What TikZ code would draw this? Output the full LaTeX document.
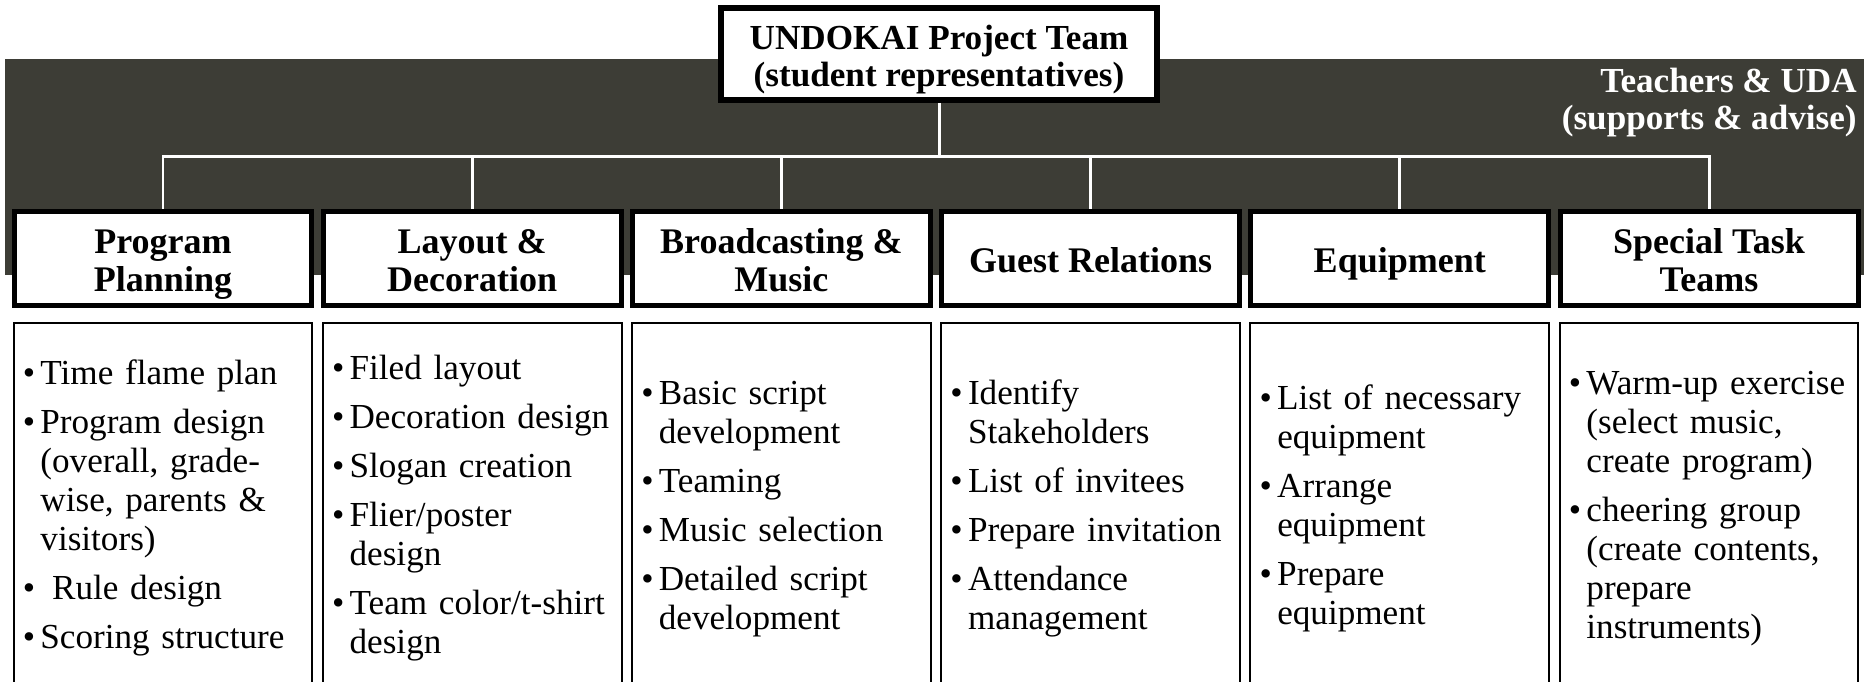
\documentclass[tikz,border=0pt]{standalone}
\usepackage{fontspec}
\setmainfont{Liberation Serif}
\usetikzlibrary{positioning}

\definecolor{bandgray}{RGB}{61,61,54}
% one bullet item, hanging indent, gap before all but the first
\newcommand{\bul}[1]{\par\addvspace{5.7pt}\hangindent=8.5pt\hangafter=1\noindent\makebox[8.5pt][l]{\kern-1.5pt\textbullet}#1\par}
% struts on first and last line of a box title
\newcommand{\boxlines}[1]{\rule{0pt}{22pt}#1\rule[-6pt]{0pt}{0pt}}

\begin{document}
\begin{tikzpicture}[x=0.02cm,y=-0.02cm,
  team/.style={draw,line width=3.4pt,fill=white,minimum width=248.1pt,minimum height=52.3pt,inner sep=0pt,align=center,font=\fontsize{20}{21}\selectfont\bfseries},
  head/.style={draw,line width=2.85pt,fill=white,minimum width=169.6pt,minimum height=53.5pt,inner sep=0pt,align=center,font=\fontsize{20.5}{21.8}\selectfont\bfseries},
  tasks/.style={draw,line width=1.14pt,fill=white,minimum width=170.1pt,minimum height=210.5pt,inner sep=0pt,text width=156.5pt,align=left,execute at end node={\vspace{13.7pt}},font=\fontsize{20}{22.2}\selectfont},
  link/.style={white,line width=1.7pt}]
 \useasboundingbox (0,0) rectangle (1864,682);

 %Background band
 \fill[bandgray] (4.7,59) rectangle (1864,275);
 \node[anchor=north east,inner sep=0pt,align=right,white,font=\fontsize{20}{21}\selectfont\bfseries] (uda) at (1857,68) {Teachers \& UDA\\(supports \& advise)};

 %Top
 \node[team] (team) at (939,54) {\boxlines{UNDOKAI Project Team\\(student representatives)}};
 \coordinate (bar) at (0,156.5);

 %Teams
 \foreach \n/\x/\head in {plan/163/{Program\\Planning}, layout/472.2/{Layout \&\\Decoration}, broad/781.4/{Broadcasting \&\\Music}, guest/1090.6/{Guest Relations}, equip/1399.8/{Equipment}, special/1709/{Special Task\\Teams}}
  \node[head] (\n) at (\x,258.5) {\boxlines{\head}};

 %Connectors
 \draw[link] (team.south) -- (team.south |- bar);
 \draw[link,line cap=rect] (plan.north |- bar) -- (special.north |- bar);
 \foreach \n in {plan,layout,broad,guest,equip,special}
  \draw[link] (\n.north |- bar) -- (\n.north);

 %Tasks
 \node[tasks,below=0.28cm of plan] (plan-list) {\bul{Time flame plan}\bul{Program design\newline (overall, grade-\newline wise, parents \&\newline visitors)}\bul{\ Rule design}\bul{Scoring structure}};
 \node[tasks,below=0.28cm of layout] (layout-list) {\bul{Filed layout}\bul{Decoration design}\bul{Slogan creation}\bul{Flier/poster\newline design}\bul{Team color/t-shirt\newline design}};
 \node[tasks,below=0.28cm of broad] (broad-list) {\bul{Basic script\newline development}\bul{Teaming}\bul{Music selection}\bul{Detailed script\newline development}};
 \node[tasks,below=0.28cm of guest] (guest-list) {\bul{Identify\newline Stakeholders}\bul{List of invitees}\bul{Prepare invitation}\bul{Attendance\newline management}};
 \node[tasks,below=0.28cm of equip] (equip-list) {\bul{List of necessary\newline equipment}\bul{Arrange\newline equipment}\bul{Prepare\newline equipment}};
 \node[tasks,below=0.28cm of special] (special-list) {\bul{Warm-up exercise\newline (select music,\newline create program)}\bul{cheering group\newline (create contents,\newline prepare\newline instruments)}};

\end{tikzpicture}
\end{document}
